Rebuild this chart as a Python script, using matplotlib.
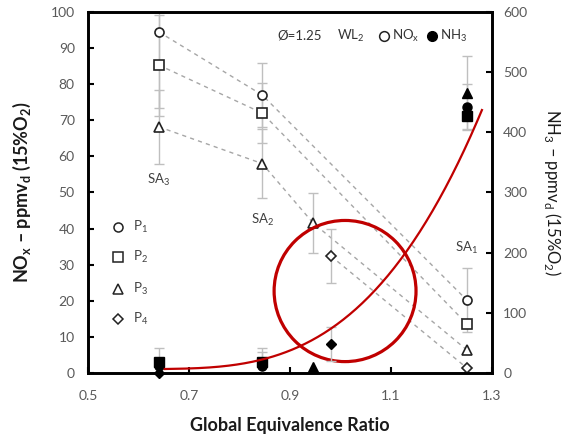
import matplotlib.pyplot as plt
import numpy as np
from matplotlib.patches import Ellipse

plt.rcParams['font.family'] = ['Lato', 'DejaVu Sans']
plt.rcParams['mathtext.fontset'] = 'custom'
plt.rcParams['mathtext.rm'] = 'Lato'

# NOx (left axis), open markers
p1_x = [0.64, 0.845, 1.25]
p1_nox = [94.5, 77.0, 20.2]
p1_nox_err = [21.0, 9.0, 8.8]
p2_x = [0.64, 0.845, 1.25]
p2_nox = [85.3, 72.0, 13.6]
p2_nox_err = [14.0, 8.3, 0.0]
p3_x = [0.64, 0.845, 0.946, 1.25]
p3_nox = [68.2, 58.0, 41.5, 6.4]
p3_nox_err = [10.3, 9.5, 8.3, 0.0]
p4_x = [0.981, 1.25]
p4_nox = [32.4, 1.4]
p4_nox_err = [7.5, 0.0]

# NH3 (right axis), filled markers
p1_nh3_x = [0.64, 0.845, 1.25]
p1_nh3 = [11, 11, 442]
p1_nh3_err = [0, 24, 38]
p2_nh3_x = [0.64, 0.845, 1.25]
p2_nh3 = [19, 18, 427]
p2_nh3_err = [23, 24, 0]
p3_nh3_x = [0.946, 1.25]
p3_nh3 = [10, 466]
p3_nh3_err = [0, 61]
p4_nh3_x = [0.64, 0.981, 1.25]
p4_nh3 = [0, 48, 432]
p4_nh3_err = [0, 28, 0]

# trendline for NH3: y = c0 + c1 t + c2 t^2 + c3 t^3, t = phi - t0
trend_t0 = 0.652
trend_end = 1.28
trend_coef = [6.6, 12.5, 44.0, 1636.0]

sa_labels = ['SA$_\\mathregular{3}$', 'SA$_\\mathregular{2}$', 'SA$_\\mathregular{1}$']
sa_x = [0.64, 0.845, 1.25]
sa_y = [53.5, 42.4, 34.6]

series = [
    ('o', p1_x, p1_nox, p1_nox_err, p1_nh3_x, p1_nh3, p1_nh3_err),
    ('s', p2_x, p2_nox, p2_nox_err, p2_nh3_x, p2_nh3, p2_nh3_err),
    ('^', p3_x, p3_nox, p3_nox_err, p3_nh3_x, p3_nh3, p3_nh3_err),
    ('D', p4_x, p4_nox, p4_nox_err, p4_nh3_x, p4_nh3, p4_nh3_err),
]
msizes = {'o': 6.5, 's': 6.5, '^': 6.5, 'D': 5}

fig = plt.figure(figsize=(5.66, 4.34), dpi=100)
ax = fig.add_axes([0.1555, 0.1406, 0.7138, 0.8318])
ax2 = ax.twinx()

grey_err = '#bfbfbf'

def draw_err(a, x, y, e):
    x = np.array(x); y = np.array(y); e = np.array(e)
    m = e > 0
    if m.any():
        a.errorbar(x[m], y[m], yerr=e[m], fmt='none', ecolor=grey_err,
                   elinewidth=1, capsize=3.5, capthick=1, zorder=1)

for mk, x, nox, nerr, hx, nh3, herr in series:
    ax.plot(x, nox, ls=(0, (3, 3)), color='#a6a6a6', lw=1, zorder=1)
    draw_err(ax, x, nox, nerr)
    ax.plot(x, nox, ls='none', marker=mk, ms=msizes[mk], mfc='white',
            mec='#222222', mew=1.2, zorder=3)
    draw_err(ax2, hx, nh3, herr)
    ax2.plot(hx, nh3, ls='none', marker=mk, ms=msizes[mk], mfc='black',
             mec='black', mew=1, zorder=3, clip_on=False)

tx = np.linspace(trend_t0, trend_end, 200)
t = tx - trend_t0
ty = sum(c * t ** i for i, c in enumerate(trend_coef))
ax2.plot(tx, ty, color='#c00000', lw=1.6, zorder=4)

ax.add_patch(Ellipse((1.009, 22.7), 0.281, 39.1, fill=False,
                     edgecolor='#c00000', lw=2.3, zorder=5))

for lab, x, y in zip(sa_labels, sa_x, sa_y):
    ax.text(x, y, lab, ha='center', va='center', fontsize=9.5, color='#404040')

# in-plot legend
leg_y = [0.404, 0.321, 0.233, 0.150]
for (mk, *_), yy, i in zip(series, leg_y, range(4)):
    ax.plot([0.074], [yy], transform=ax.transAxes, ls='none', marker=mk,
            ms=msizes[mk], mfc='white', mec='#222222', mew=1.1)
    ax.text(0.112, yy, 'P$_\\mathregular{%d}$' % (i + 1), transform=ax.transAxes,
            ha='left', va='center', fontsize=9.5, color='#404040')

ty_leg = 0.934
ax.text(0.468, ty_leg, 'Ø=1.25', transform=ax.transAxes, ha='left', va='center',
        fontsize=9.5, color='#333333')
ax.text(0.616, ty_leg, 'WL$_\\mathregular{2}$', transform=ax.transAxes, ha='left',
        va='center', fontsize=9.5, color='#333333')
ax.plot([0.732], [ty_leg], transform=ax.transAxes, marker='o', ms=7, mfc='white',
        mec='#222222', mew=1.1)
ax.text(0.752, ty_leg, 'NO$_\\mathregular{x}$', transform=ax.transAxes, ha='left',
        va='center', fontsize=9.5, color='#333333')
ax.plot([0.852], [ty_leg], transform=ax.transAxes, marker='o', ms=7, mfc='black',
        mec='black')
ax.text(0.870, ty_leg, 'NH$_\\mathregular{3}$', transform=ax.transAxes, ha='left',
        va='center', fontsize=9.5, color='#333333')

ax.set_xlim(0.5, 1.3)
ax.set_ylim(0, 100)
ax2.set_ylim(0, 600)
ax.set_xticks([0.5, 0.7, 0.9, 1.1, 1.3])
ax.set_yticks(np.arange(0, 101, 10))
ax2.set_yticks(np.arange(0, 601, 100))

for a in (ax, ax2):
    for s in a.spines.values():
        s.set_linewidth(1.9)
        s.set_color('black')
ax.tick_params(axis='x', direction='in', length=4, width=1.5,
               labelsize=10, labelcolor='#595959', pad=12)
ax.tick_params(axis='y', direction='in', length=4, width=1.5,
               labelsize=10, labelcolor='#595959', pad=9.5)
ax2.tick_params(axis='y', direction='in', length=4, width=1.5,
                labelsize=10, labelcolor='#595959', pad=8)

ax.set_xlabel('Global Equivalence Ratio', fontsize=13, fontweight='bold',
              color='#1a1a1a', labelpad=11)
ax.set_ylabel('NO$_\\mathregular{x}$ – ppmv$_\\mathregular{d}$ (15%O$_\\mathregular{2}$)',
              fontsize=13, fontweight='bold', color='#1a1a1a', labelpad=13)
ax2.set_ylabel('NH$_\\mathregular{3}$ – ppmv$_\\mathregular{d}$ (15%O$_\\mathregular{2}$)',
               fontsize=12, color='#1a1a1a', rotation=270, labelpad=26)

fig.savefig('out.png', dpi=100)
